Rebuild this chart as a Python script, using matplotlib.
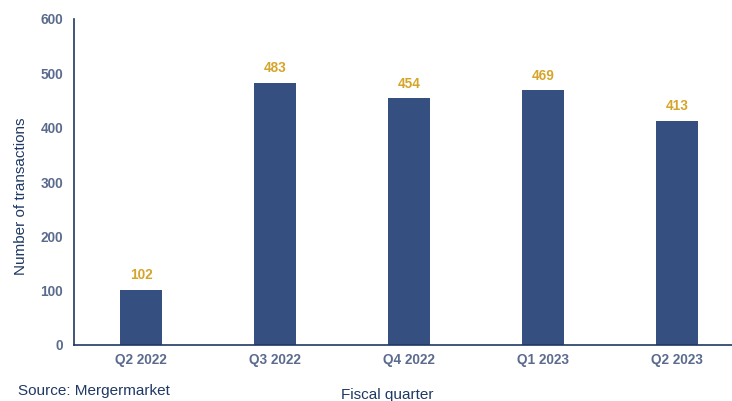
import matplotlib
matplotlib.use("Agg")
from matplotlib import pyplot as plt

QUARTERS = ["Q2 2022", "Q3 2022", "Q4 2022", "Q1 2023", "Q2 2023"]
DEALS = [102, 483, 454, 469, 413]
YTICKS = [0, 100, 200, 300, 400, 500, 600]

BAR_COLOR = "#344F80"
LABEL_COLOR = "#D5A52B"
TICK_COLOR = "#5B6B8E"
TEXT_COLOR = "#1F3864"

plt.rcParams["font.family"] = ["Liberation Sans", "DejaVu Sans"]


def main():
    fig = plt.figure(figsize=(7.32, 4.01), dpi=100)
    ax = fig.add_axes([74 / 732, 56 / 401, 670 / 732, 326 / 401])

    x = list(range(len(QUARTERS)))
    bars = ax.bar(x, DEALS, width=0.31, color=BAR_COLOR)
    for b, v in zip(bars, DEALS):
        ax.text(b.get_x() + b.get_width() / 2, v + 14, str(v), ha="center", va="bottom",
                color=LABEL_COLOR, fontsize=9.8, fontweight="bold")

    ax.set_xlim(-0.5, len(QUARTERS) - 0.5)
    ax.set_ylim(0, 600)
    ax.set_yticks(YTICKS)
    ax.set_xticks(x)
    ax.set_xticklabels(QUARTERS)
    ax.tick_params(length=0, colors=TICK_COLOR, labelsize=9.8, pad=6)
    for lbl in ax.get_xticklabels() + ax.get_yticklabels():
        lbl.set_fontweight("bold")
    ax.tick_params(axis="y", pad=8)

    for s in ["top", "right"]:
        ax.spines[s].set_visible(False)
    for s in ["left", "bottom"]:
        ax.spines[s].set_color(TEXT_COLOR)
        ax.spines[s].set_linewidth(1.2)

    ax.set_ylabel("Number of transactions", color=TEXT_COLOR, fontsize=11)
    ax.yaxis.set_label_coords(-0.068, 0.455)

    fig.text(387 / 732, 1 - 395 / 401, "Fiscal quarter", ha="center", va="center",
             color=TEXT_COLOR, fontsize=11)
    fig.text(18 / 732, 1 - 391 / 401, "Source: Mergermarket", ha="left", va="center",
             color=TEXT_COLOR, fontsize=11)

    fig.savefig("out.png", dpi=100)
    plt.close(fig)


if __name__ == "__main__":
    main()
